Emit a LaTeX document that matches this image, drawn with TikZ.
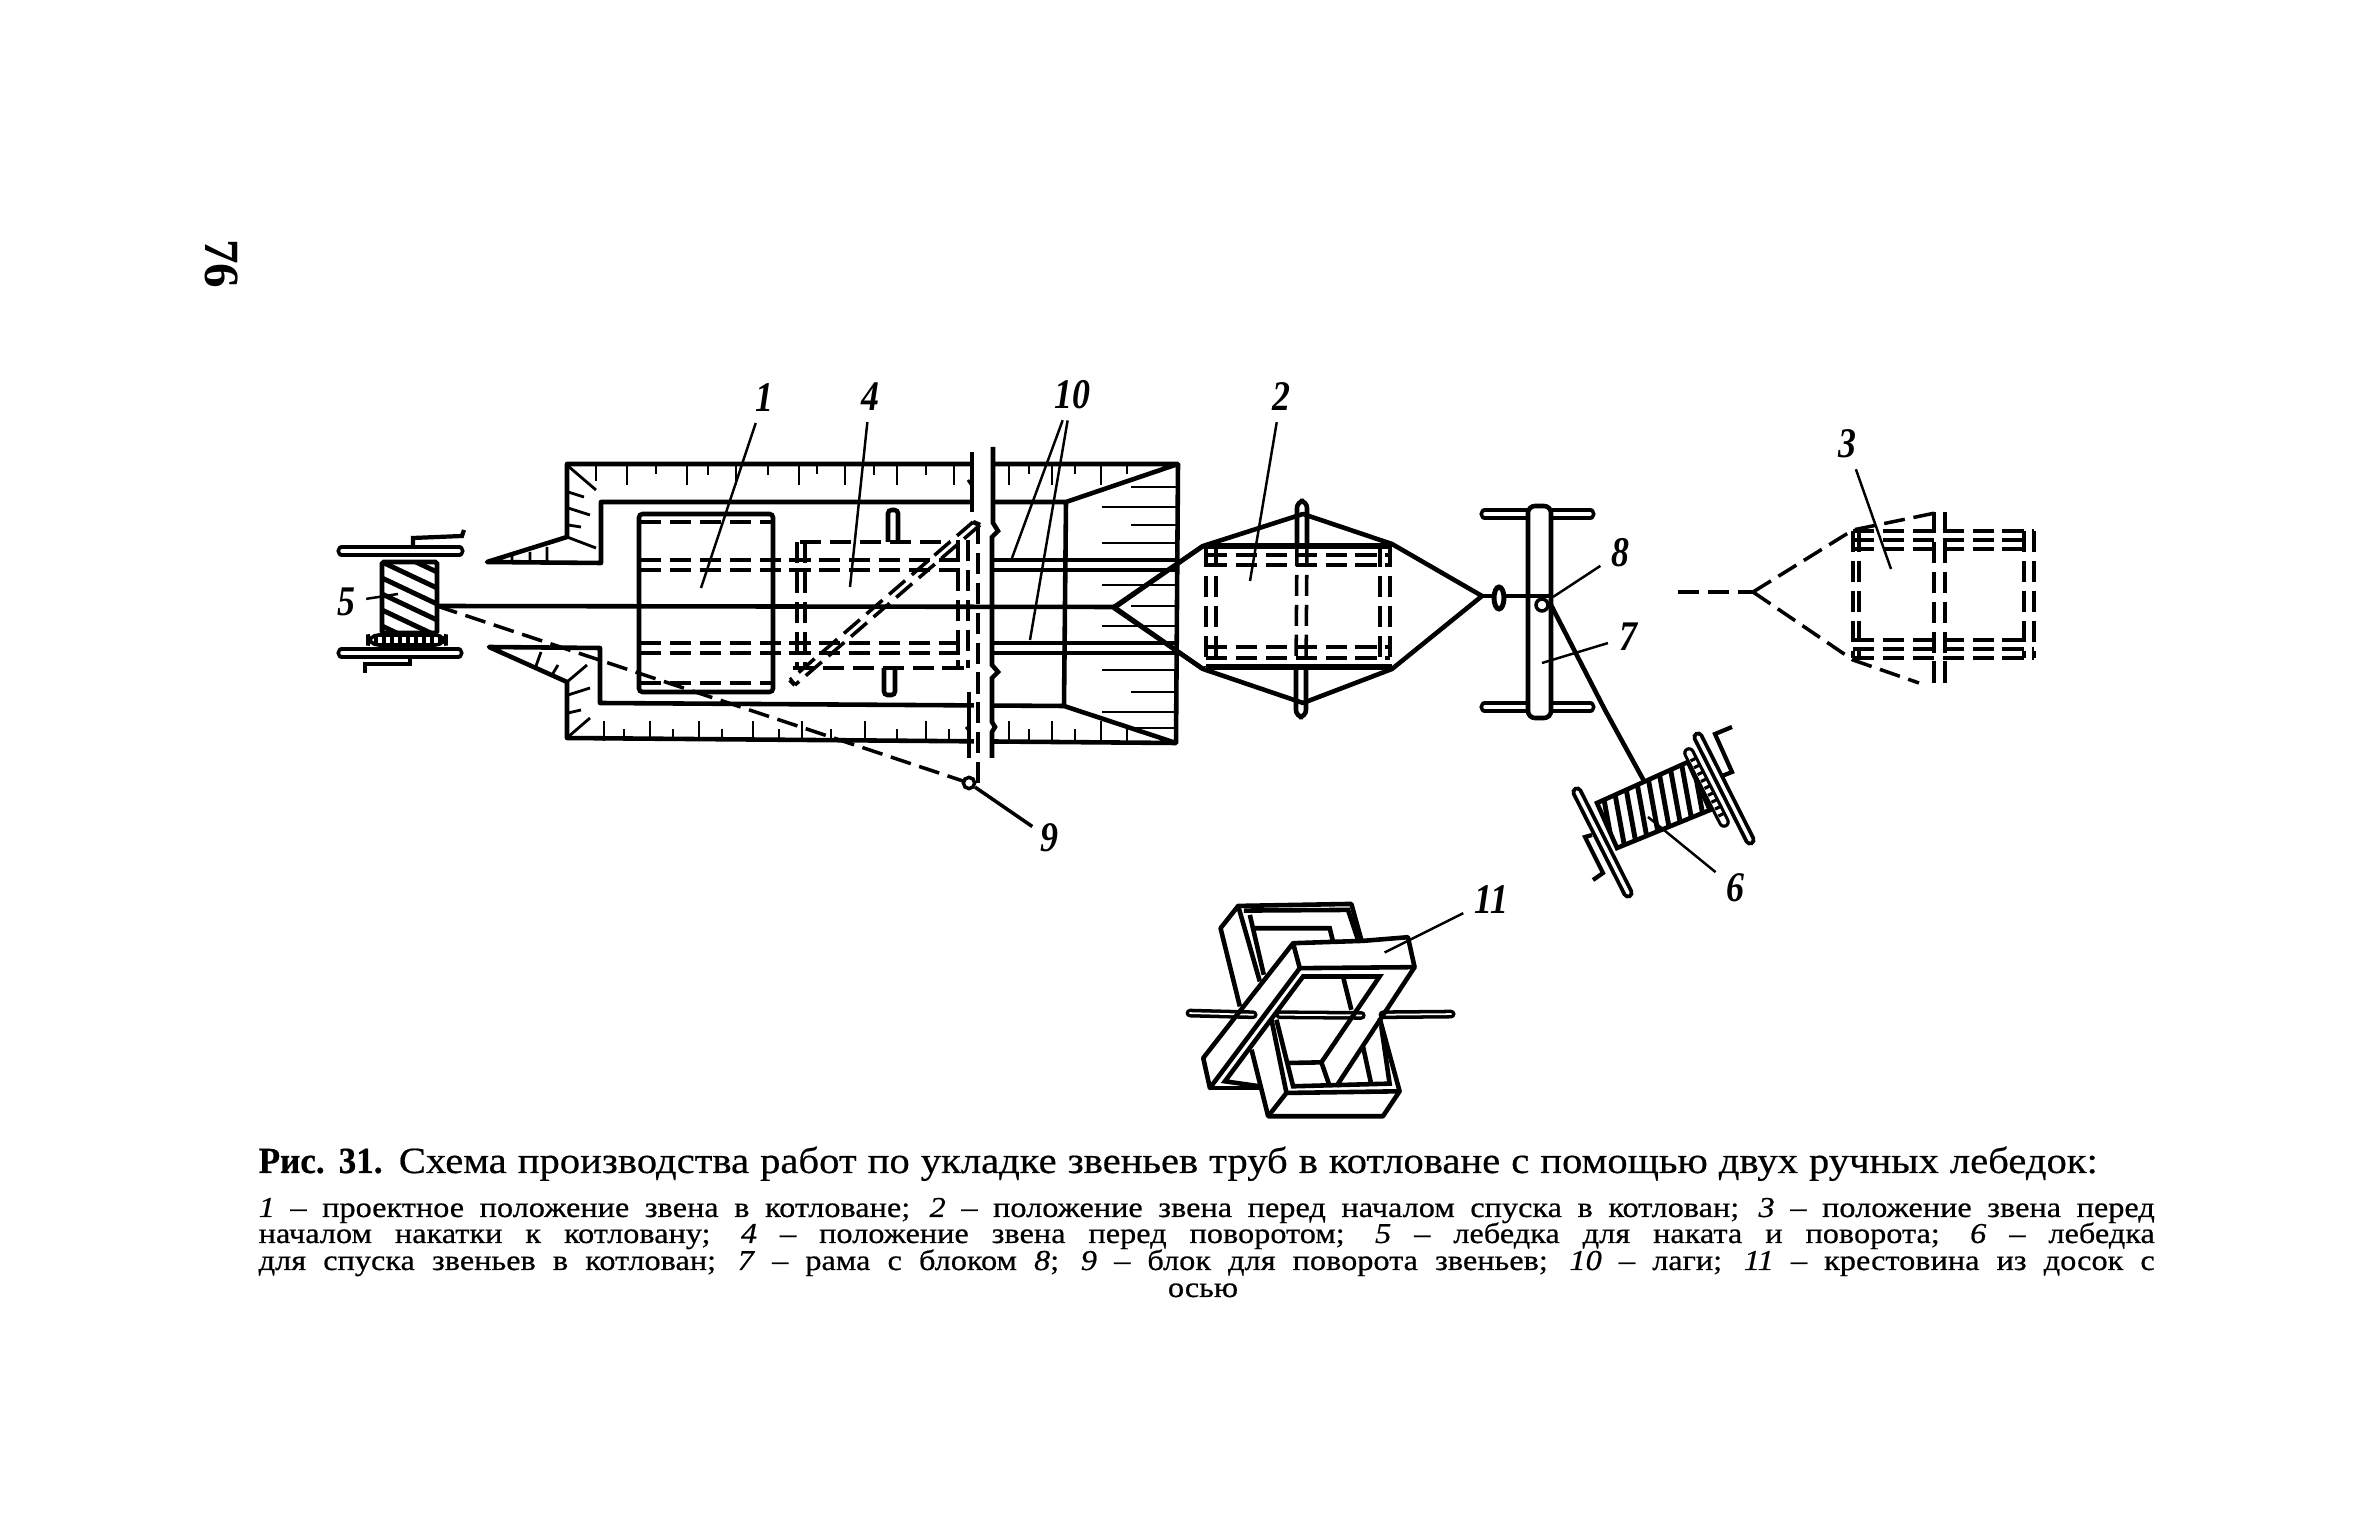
\documentclass[tikz,border=0pt]{standalone}
\usepackage{fontspec}
\usetikzlibrary{calc}
\setmainfont{Liberation Serif}
\newfontfamily\capfont[FakeStretch=1.1,FakeBold=.5,BoldFeatures={FakeStretch=.95}]{Liberation Serif}
\newfontfamily\smallfont[FakeStretch=1.12,FakeBold=.6]{Liberation Serif}
\newfontfamily\labfont[FakeStretch=.85]{Liberation Serif}
\tikzset{
  heavyline/.style={line width=1.3pt},
  thinline/.style={line width=.8pt},
  dashline/.style={line width=1pt,dash pattern=on 6pt off 2.5pt},
  leader/.style={line width=.7pt,shorten <=1pt},
  flange/.style={line width=1.1pt,double=white,double distance=1pt,line cap=round},
  lab/.style={inner sep=2pt,font=\labfont\bfseries\itshape\fontsize{12}{12}\selectfont},
  capline/.style={anchor=base west,inner sep=0pt,font=\capfont\fontsize{10.5}{12}\selectfont},
  smallline/.style={anchor=base west,inner sep=0pt,font=\smallfont\fontsize{8.2}{9}\selectfont}
}
\begin{document}
\begin{tikzpicture}[x=.01cm,y=-.01cm]
  \useasboundingbox[fill=white] (0,0) rectangle (2362,1534);
  \node[rotate=-90,font=\fontsize{14}{14}\selectfont\bfseries,inner sep=0pt] (pagenum) at (222,264) {76};

  \draw[heavyline,line join=round] (1066,502) -- (1178,464) -- (567,464) -- (567,537) -- (487,562) -- (601,563) -- (601,502) -- (1066,502) -- (1064,706) -- (1176,743) -- (567,738) -- (567,682) -- (489,647) -- (600,648) -- (600,703) -- (1064,706);
  \draw[heavyline] (1178,464) -- (1176,743);
  \foreach \tx/\tl in {596/16,627/20,656/9,687/20,708/10,736/20,768/10,799/20,817/9,845/20,874/10,897/20,926/10,954/20,1009/20,1029/9,1052/20,1075/9,1101/20,1127/9}
    \draw[thinline] (\tx,465) -- (\tx,465+\tl);
  \foreach \tx/\tl in {604/20,624/12,650/20,673/12,699/20,722/12,753/20,779/12,802/20,831/12,865/20,897/12,926/20,949/12,1009/20,1029/12,1052/20,1075/12,1101/20,1127/12}
    \draw[thinline] (\tx,741) -- (\tx,741-\tl);
  \foreach \ty/\tl in {487/46,507/75,525/46,543/75,585/75,606/46,626/75,670/75,692/46,712/75,728/46}
    \draw[thinline] (1177,\ty) -- (1177-\tl,\ty);
  \draw[thinline] (568,466) -- (596,490) (568,492) -- (584,497) (568,508) -- (590,515) (568,525) -- (581,527) (567,537) -- (596,548);
  \draw[thinline] (567,682) -- (587,665) (568,695) -- (590,688) (568,713) -- (581,710) (568,737) -- (590,718);
  \draw[thinline] (512,555) -- (512,562) (547,547) -- (547,562) (530,552) -- (530,562) (541,652) -- (536,666) (558,665) -- (552,675);

  \fill[white] (974,450) rectangle (991,760);
  \draw[heavyline] (972,452) -- (972,512) (969,692) -- (969,758);
  \draw[heavyline] (993,447) -- (993,523) -- (998,531) -- (992,537) -- (992,665) -- (998,672) -- (992,678) -- (992,722) -- (995,727) -- (992,732) -- (992,758);
  \draw[thinline] (968,480) -- (972,486) (966,727) -- (970,732);

  \draw[heavyline,rounded corners=1pt] (639,514) rectangle (773,692);
  \draw[dashline] (640,522) -- (772,522) (640,683) -- (772,683);
  \draw[dashline] (640,560) -- (968,560) (640,570) -- (968,570) (640,643) -- (968,643) (640,653) -- (968,653);
  \draw[heavyline] (992,560) -- (1177,560) (992,570) -- (1177,570) (992,643) -- (1177,643) (992,653) -- (1177,653);
  \draw[dashline] (800,542) -- (950,542) (793,668) -- (968,668);
  \draw[dashline] (797,542) -- (797,668) (805,542) -- (805,668) (958,540) -- (958,668) (968,540) -- (968,668);
  \draw[heavyline,rounded corners=1pt] (888,542) -- (888,510) -- (898,510) -- (898,542);
  \draw[heavyline,rounded corners=1pt] (884,668) -- (884,695) -- (895,695) -- (895,668);
  \draw[dashline] (973,522) -- (790,680) (980,525) -- (795,685);
  \draw[heavyline] (790,680) -- (795,685) (973,522) -- (980,525);
  \draw[dashline] (978,523) -- (978,783);

  \draw[line width=1.3pt] (437,606) -- (1114,607);
  \draw[line width=1.3pt] (1203,546) -- (1114,607) -- (1203,669);
  \draw[dashline] (437,606) -- (969,783);
  \node[draw,circle,line width=1pt,inner sep=0pt,minimum size=3.2pt,fill=white] (block9) at (969,783) {};

  \draw[line width=1.4pt,fill=white,rounded corners=.5pt] (382,562) rectangle (437,633);
  \begin{scope}
    \clip (382,562) rectangle (437,633);
    \foreach \ty in {530,546,...,640}
      \draw[line width=1.4pt] (382,\ty) -- (437,\ty+26);
  \end{scope}
  \draw[flange] (342,551) -- (459,551) (342,653) -- (458,653);
  \draw[line width=1.2pt] (413,545) -- (413,538) -- (462,536) -- (464,530);
  \draw[line width=1.2pt] (410,658) -- (410,664) -- (365,664) -- (365,673);
  \draw[line width=1pt,rounded corners=3pt,fill=white] (368,635) rectangle (446,645);
  \foreach \gx in {376,384,...,440}
    \draw[line width=1pt] (\gx,635) -- (\gx,645);

  \draw[heavyline,line join=round] (1114,608) -- (1203,546) -- (1303,514) -- (1392,544) -- (1482,596) -- (1392,669) -- (1303,703) -- (1203,669) -- cycle;
  \draw[line width=1.6pt] (1206,546) -- (1392,546) (1206,667) -- (1392,667);
  \draw[dashline] (1206,546) -- (1206,667) (1216,546) -- (1216,667) (1380,546) -- (1380,667) (1390,546) -- (1390,667);
  \draw[dashline] (1206,555) -- (1390,555) (1206,565) -- (1390,565) (1206,647) -- (1390,647) (1206,658) -- (1390,658);
  \draw[heavyline,rounded corners=2pt] (1297,545) -- (1297,501) -- (1307,501) -- (1307,545);
  \draw[heavyline,rounded corners=2pt] (1296,670) -- (1296,717) -- (1306,717) -- (1306,670);
  \draw[dashline] (1297,545) -- (1296,670) (1307,545) -- (1306,670);

  \draw[flange] (1485,514) -- (1590,514) (1485,707) -- (1590,707);
  \draw[heavyline,fill=white,rounded corners=2pt] (1528,506) rectangle (1551,718);
  \draw[heavyline] (1482,596) -- (1550,596);
  \draw[line width=1.4pt,fill=white] (1499,598) ellipse [x radius=5,y radius=11];
  \node[draw,circle,line width=1pt,inner sep=0pt,minimum size=3.4pt,fill=white] (block8) at (1542,605) {};
  \draw[line width=1.3pt] (1550,603) -- (1605,710) -- (1644,781);

  \draw[line width=1.3pt,fill=white] (1597,803) -- (1688,762) -- (1710,810) -- (1617,848) -- cycle;
  \begin{scope}
    \clip (1597,803) -- (1688,762) -- (1710,810) -- (1617,848) -- cycle;
    \foreach \hx in {1595,1607,...,1710}
      \draw[line width=1.4pt] (\hx,750) -- (\hx+20,860);
  \end{scope}
  \draw[flange] (1577,792) -- (1628,893) (1698,737) -- (1750,840);
  \draw[flange,line width=.9pt,double distance=1.5pt] (1689,753) -- (1724,822);
  \foreach \gt in {0.1,0.2,...,0.9}
    \draw[line width=.9pt] ($(1689,753)!\gt!(1724,822)+(-2,1)$) -- ++(5,-2.5);
  \draw[line width=1.2pt] (1732,727) -- (1715,734) -- (1732,772) -- (1722,776);
  \draw[line width=1.2pt] (1592,835) -- (1585,837) -- (1603,873) -- (1593,880);

  \draw[dashline] (1678,592) -- (1753,592);
  \draw[dashline] (1753,592) -- (1853,530) -- (1940,512);
  \draw[dashline] (1753,592) -- (1853,660) -- (1919,683);
  \draw[dashline] (1853,531) -- (1853,658) (1859,531) -- (1859,658) (2024,531) -- (2024,658) (2034,531) -- (2034,658);
  \draw[dashline] (1853,531) -- (2034,531) (1853,540) -- (2034,540) (1853,549) -- (2024,549);
  \draw[dashline] (1853,640) -- (2024,640) (1853,649) -- (2034,649) (1853,658) -- (2034,658);
  \draw[dashline] (1934,512) -- (1934,689) (1945,512) -- (1945,689);

  \begin{scope}[shift={(1150,860)},x=.0033333cm,y=-.0033333cm]
    \draw[heavyline,line join=round] (270,440) -- (212,205) -- (265,138) -- (605,132) -- (635,240);
    \draw[heavyline] (265,138) -- (330,365) (282,152) -- (595,150) -- (625,240) (300,165) -- (342,345) (315,205) -- (540,205) -- (550,245);
    \draw[heavyline,line join=round] (305,570) -- (355,770) -- (700,770) -- (750,695) -- (690,475);
    \draw[heavyline] (355,770) -- (410,700) -- (750,695) (410,700) -- (365,480);
    \draw[heavyline] (380,480) -- (430,680) -- (720,672) -- (695,500);
    \draw[heavyline] (415,610) -- (515,608) -- (540,680) (640,560) -- (665,675);
    \draw[line width=1pt,double=white,double distance=.5pt,line cap=round] (120,460) -- (310,465) (390,465) -- (635,467) (700,465) -- (905,463);
    \draw[heavyline,line join=round] (450,325) -- (430,250) -- (640,243) -- (775,232) -- (795,322) -- (450,325);
    \draw[heavyline,line join=round] (430,250) -- (160,595) -- (180,685) -- (450,325);
    \draw[heavyline] (180,685) -- (330,685);
    \draw[heavyline] (330,680) -- (225,665) -- (460,350) -- (690,350) -- (515,608);
    \draw[heavyline] (795,322) -- (560,680) (580,350) -- (605,450);
    \coordinate (end11) at (705,278);
    \node[lab] (lab11) at (1025,118) {11};
    \draw[leader] (lab11) -- (end11);
  \end{scope}

  \node[lab] (lab1) at (764,398) {1};
  \node[lab] (lab4) at (870,397) {4};
  \node[lab] (lab10) at (1072,395) {10};
  \node[lab] (lab2) at (1281,397) {2};
  \node[lab] (lab3) at (1847,444) {3};
  \node[lab] (lab5) at (346,602) {5};
  \node[lab] (lab6) at (1735,888) {6};
  \node[lab] (lab7) at (1628,637) {7};
  \node[lab] (lab8) at (1620,553) {8};
  \node[lab] (lab9) at (1049,838) {9};
  \coordinate (end1) at (701,588);
  \coordinate (end4) at (850,587);
  \coordinate (end10a) at (1012,558);
  \coordinate (end10b) at (1030,640);
  \coordinate (end2) at (1250,581);
  \coordinate (end3) at (1891,569);
  \coordinate (end5) at (398,594);
  \coordinate (end6) at (1648,817);
  \coordinate (end7) at (1542,663);
  \coordinate (end8) at (1553,597);
  \draw[leader] (lab1) -- (end1);
  \draw[leader] (lab4) -- (end4);
  \draw[leader] (lab10) -- (end10a);
  \draw[leader] (lab10) -- (end10b);
  \draw[leader] (lab2) -- (end2);
  \draw[leader] (lab3) -- (end3);
  \draw[leader] (lab5) -- (end5);
  \draw[leader] (lab6) -- (end6);
  \draw[leader] (lab7) -- (end7);
  \draw[leader] (lab8) -- (end8);
  \draw[line width=1pt] (block9) -- (lab9);

  \node[capline] (captitle) at (258,1173) {\makebox[18.38cm][s]{\textbf{Рис. 31.} Схема производства работ по укладке звеньев труб в котловане с помощью двух ручных лебедок:}};
  \node[smallline] (capa) at (258,1217) {\makebox[18.95cm][s]{\textit{1} – проектное положение звена в котловане; \textit{2} – положение звена перед началом спуска в котлован; \textit{3} – положение звена перед}};
  \node[smallline] (capb) at (258,1243) {\makebox[18.95cm][s]{началом накатки к котловану; \textit{4} – положение звена перед поворотом; \textit{5} – лебедка для наката и поворота; \textit{6} – лебедка}};
  \node[smallline] (capc) at (258,1270) {\makebox[18.95cm][s]{для спуска звеньев в котлован; \textit{7} – рама с блоком \textit{8}; \textit{9} – блок для поворота звеньев; \textit{10} – лаги; \textit{11} – крестовина из досок с}};
  \node[smallline,anchor=base] (capd) at (1203,1297) {осью};
\end{tikzpicture}
\end{document}
